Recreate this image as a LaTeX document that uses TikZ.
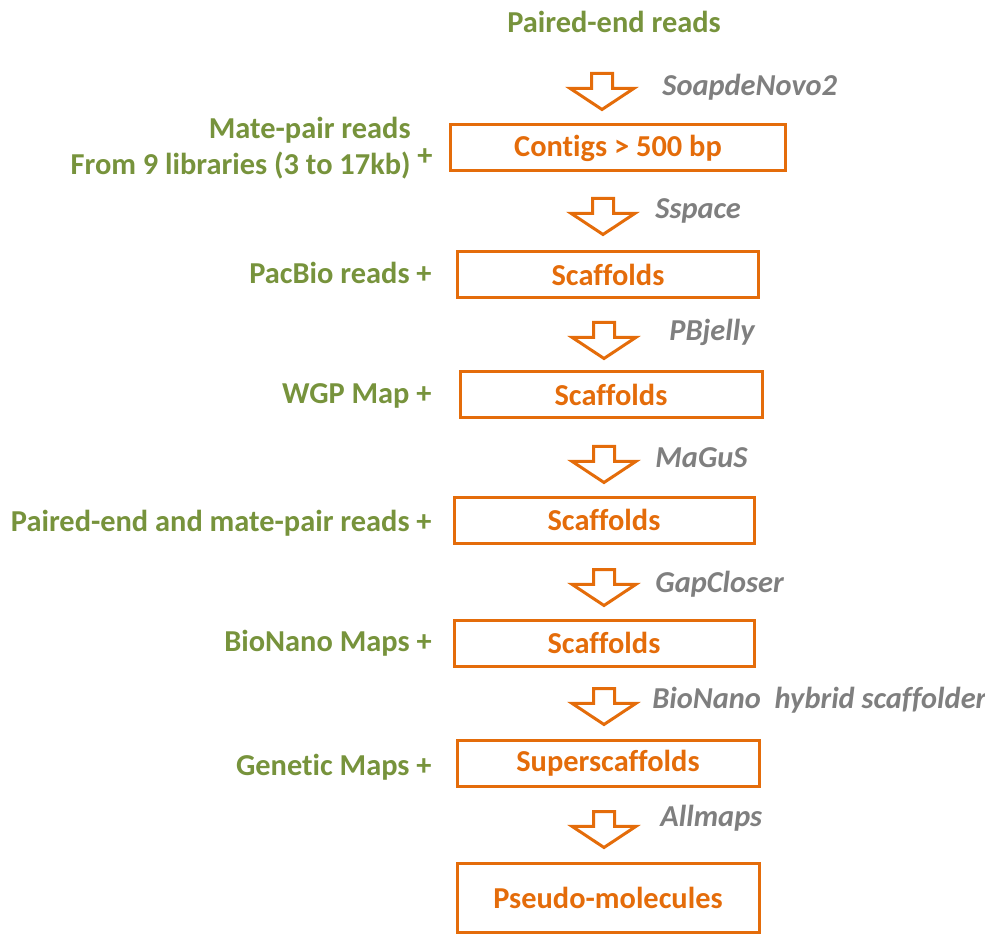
\documentclass[tikz,border=0pt]{standalone}
\usepackage{fontspec}
\setmainfont{Carlito}[Ligatures=NoCommon]
\usepackage{tikz}
\usetikzlibrary{shapes.arrows}
\definecolor{readgreen}{RGB}{119,147,60}
\definecolor{stageorange}{RGB}{228,108,10}
\definecolor{toolgray}{RGB}{127,127,127}

\begin{document}
\begin{tikzpicture}[x=0.5pt,y=-0.5pt,
  stage/.style={draw=stageorange, line width=1.5pt, text=stageorange, inner sep=0pt,
    font=\bfseries\fontsize{15.2}{18}\selectfont},
  input/.style={text=readgreen, inner sep=0pt, font=\bfseries\fontsize{15.2}{18}\selectfont},
  tool/.style={text=toolgray, anchor=west, inner sep=0pt, font=\bfseries\itshape\fontsize{15.2}{18}\selectfont},
  down/.style={single arrow, draw=stageorange, line width=1.5pt, fill=white, rotate=-90,
    anchor=tail, inner xsep=0pt, inner ysep=4.5pt, minimum height=18pt,
    single arrow head extend=10.75pt, single arrow tip angle=113}]

\useasboundingbox (0,0) rectangle (985,935);

% les etapes d'assemblage
\node[stage, minimum width=167.5pt, minimum height=23pt] (contigs) at (618,148) {Contigs > 500 bp};
\node[stage, minimum width=150.5pt, minimum height=23pt] (scafA) at (608,275) {Scaffolds};
\node[stage, minimum width=151pt, minimum height=23pt] (scafB) at (611,395) {Scaffolds};
\node[stage, minimum width=150pt, minimum height=23pt] (scafC) at (604,520) {Scaffolds};
\node[stage, minimum width=150pt, minimum height=23pt] (scafD) at (604,643) {Scaffolds};
\node[stage, minimum width=151pt, minimum height=23pt] (super) at (608,763) {Superscaffolds};
\node[stage, minimum width=151pt, minimum height=34.5pt] (pseudo) at (608,898) {Pseudo-molecules};

% les fleches creuses
\node[down] (arrA) at (602,72) {};
\node[down] (arrB) at (603,197) {};
\node[down] (arrC) at (604,321) {};
\node[down] (arrD) at (604,445) {};
\node[down] (arrE) at (604,568) {};
\node[down] (arrF) at (604,687) {};
\node[down] (arrG) at (604,810) {};

% les outils
\node[tool] (soap) at (662,87) {SoapdeNovo2};
\node[tool] (sspace) at (655,211) {Sspace};
\node[tool] (pbjelly) at (669,332) {PBjelly};
\node[tool] (magus) at (655,458) {MaGuS};
\node[tool] (gapcloser) at (655,584) {GapCloser};
\node[tool] (hybrid) at (652,700) {BioNano\hspace{0.45em}hybrid scaffolder};
\node[tool] (allmaps) at (660,818) {Allmaps};

% les donnees
\node[input] (pereads) at (614,22) {Paired-end reads};
\node[input, anchor=east, align=right] (matepair) at (411,148) {Mate-pair reads\\From 9 libraries (3 to 17kb)};
\node[input] (mateplus) at (425,157) {+};
\node[input, anchor=east] (pacbio) at (432,273) {PacBio reads +};
\node[input, anchor=east] (wgp) at (432,396) {WGP Map +};
\node[input, anchor=east] (pemp) at (432,523) {Paired-end and mate-pair reads +};
\node[input, anchor=east] (bionano) at (432,643) {BioNano Maps +};
\node[input, anchor=east] (genetic) at (432,767) {Genetic Maps +};
\end{tikzpicture}
\end{document}
